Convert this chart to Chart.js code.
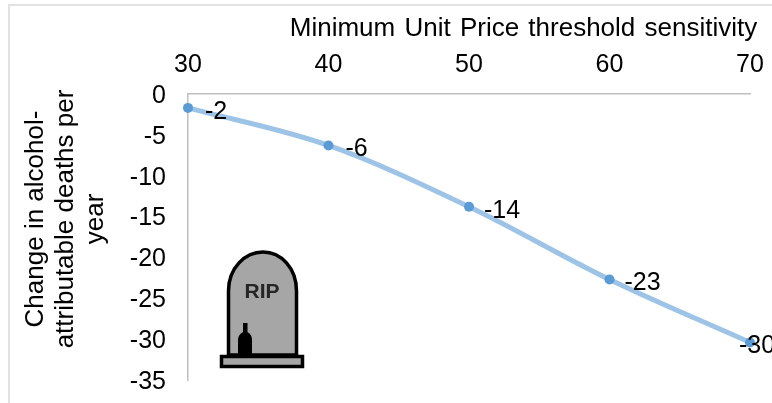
<!DOCTYPE html>
<html lang="en">
<head>
  <meta charset="UTF-8">
  <title>Minimum Unit Price threshold sensitivity</title>
  <script src="https://cdn.jsdelivr.net/npm/chart.js"></script>
  <style>
    html, body { margin: 0; padding: 0; background: #fff; overflow: hidden; }
    #wrap { position: relative; width: 772px; height: 403px; }
    #frame { position: absolute; left: 8px; top: 4px; width: 780px; height: 420px; border: 2px solid #e2e2e2; box-sizing: border-box; }
    #grafico { position: absolute; left: 0; top: 0; }
    #lapide { position: absolute; left: 215px; top: 245px; }
  </style>
</head>
<body>
  <div id="wrap">
    <div id="frame"></div>
    <canvas id="grafico" width="772" height="403"></canvas>
    <svg id="lapide" width="95" height="128" viewBox="215 245 95 128">
      <path d="M228.5 355 V291 C228.5 268 245 252 263 252 C281 252 296.5 268 296.5 291 V355 Z" fill="#a6a6a6" stroke="#000" stroke-width="3.5"/>
      <rect x="221.5" y="356.5" width="81" height="10" fill="#a6a6a6" stroke="#000" stroke-width="3.5"/>
      <path d="M243 323 H247.5 V332 C250.5 334 252 336 252 340 V355 H238 V340 C238 336 240 334 243 332 Z" fill="#000"/>
      <text x="262" y="298" text-anchor="middle" font-family="Liberation Sans" font-weight="bold" font-size="21" fill="#262626">RIP</text>
    </svg>
  </div>

  <script>
    const limiares = [30, 40, 50, 60, 70];
    const mudanca = [-1.7, -6.3, -13.8, -22.7, -30.4];
    const rotulos = ["-2", "-6", "-14", "-23", "-30"];
    const deslocX = [17, 17, 15, 15, -11];
    const ticksY = [0, -5, -10, -15, -20, -25, -30, -35];
    const tituloX = "Minimum Unit Price threshold sensitivity";
    const tituloY = ["Change in alcohol-", "attributable deaths per", "year"];

    const fonte = "Liberation Sans";
    const tamanho = 25;
    const tamanhoTitulo = 26;

    // rotulos de dados e titulos, fora do centro do eixo como no original
    const textosPlugin = {
      id: "textos",
      afterDatasetsDraw(chart) {
        const c = chart.ctx;
        const pontos = chart.getDatasetMeta(0).data;
        c.save();
        c.fillStyle = "#000";
        c.textBaseline = "middle";
        c.font = tamanho + "px '" + fonte + "'";
        pontos.forEach(function(p, i) {
          c.fillText(rotulos[i], p.x + deslocX[i], p.y + 4);
        });

        c.font = tamanhoTitulo + "px '" + fonte + "'";
        c.textBaseline = "alphabetic";
        c.textAlign = "center";
        c.wordSpacing = "2px";
        c.fillText(tituloX, 523.5, 36);
        c.wordSpacing = "0px";

        c.translate(0, 219);
        c.rotate(-Math.PI / 2);
        tituloY.forEach(function(linha, i) {
          c.fillText(linha, 0, 43 + i * 30);
        });
        c.restore();
      }
    };

    new Chart(document.getElementById("grafico").getContext("2d"), {
      type: "line",
      data: {
        datasets: [{
          data: limiares.map(function(x, i) { return { x: x, y: mudanca[i] }; }),
          borderColor: "#9dc3e6",
          borderWidth: 5,
          cubicInterpolationMode: "monotone",
          pointBackgroundColor: "#5b9bd5",
          pointBorderColor: "#5b9bd5",
          pointRadius: 5,
          pointBorderWidth: 0,
          clip: false
        }]
      },
      plugins: [textosPlugin],
      options: {
        responsive: false,
        animation: false,
        events: [],
        layout: { padding: { left: 22, right: 22, top: 13, bottom: 23 } },
        plugins: { legend: { display: false }, tooltip: { enabled: false } },
        scales: {
          x: {
            type: "linear",
            position: "top",
            min: limiares[0],
            max: limiares[limiares.length - 1],
            // o chart.js reserva metade do rotulo + padding nas pontas, aqui nao queremos
            afterFit(scale) { scale.height = 81; scale.paddingLeft = 0; scale.paddingRight = 0; },
            grid: { display: false, drawTicks: false },
            border: { display: true, color: "#bfbfbf", width: 1.5 },
            ticks: {
              stepSize: 10,
              maxRotation: 0,
              padding: 14,
              color: "#000",
              font: { family: fonte, size: tamanho }
            }
          },
          y: {
            min: ticksY[ticksY.length - 1],
            max: ticksY[0],
            afterFit(scale) { scale.width = 166; scale.paddingTop = 0; scale.paddingBottom = 0; },
            afterBuildTicks(scale) { scale.ticks = ticksY.map(function(v) { return { value: v }; }); },
            grid: { display: false, drawTicks: false },
            border: { display: true, color: "#bfbfbf", width: 1.5 },
            ticks: {
              padding: 22,
              labelOffset: 2,
              color: "#000",
              font: { family: fonte, size: tamanho }
            }
          }
        }
      }
    });
  </script>
</body>
</html>
